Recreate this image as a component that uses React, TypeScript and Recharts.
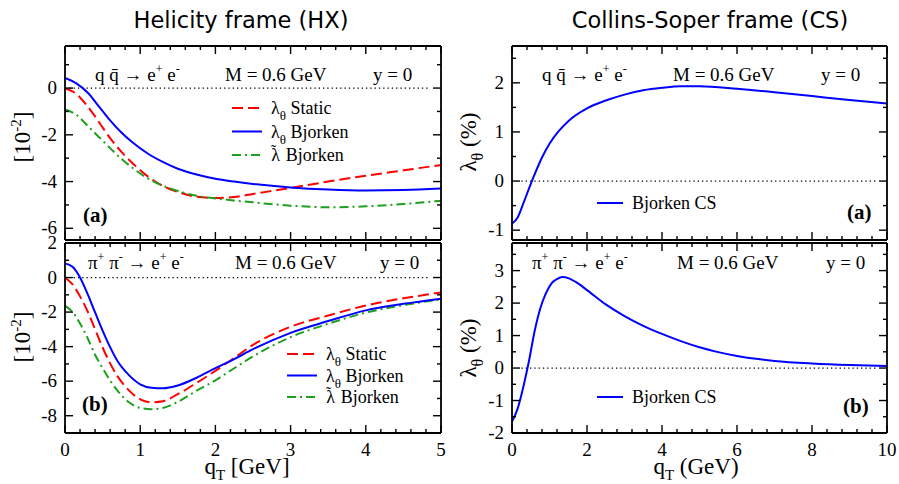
import React from "react";
import { LineChart, Line, XAxis, YAxis, ReferenceLine } from "recharts";

const W = 899;
const H = 484;
const SERIF = "'Liberation Serif', 'Times New Roman', serif";
const SANS = "'DejaVu Sans', sans-serif";
const RED = "#ff0000";
const BLUE = "#0000ff";
const GREEN = "#1f9f1f";

// Helicity frame, q qbar -> e+ e-
const hxQqT = [0, 0.15, 0.3, 0.45, 0.6, 0.75, 0.9, 1.1, 1.3, 1.5, 1.75, 2.0, 2.25, 2.5, 3.0, 3.5, 4.0, 4.5, 5.0];
const hxQqStatic = [0, -0.25, -0.78, -1.45, -2.14, -2.73, -3.22, -3.78, -4.18, -4.44, -4.65, -4.7, -4.66, -4.53, -4.27, -4.0, -3.75, -3.52, -3.29];
const hxQqBjorken = [0.43, 0.2, -0.19, -0.78, -1.38, -1.9, -2.33, -2.8, -3.16, -3.45, -3.7, -3.88, -4.0, -4.1, -4.25, -4.34, -4.38, -4.36, -4.3];
const hxQqTilde = [-0.91, -1.14, -1.61, -2.09, -2.57, -3.03, -3.42, -3.86, -4.18, -4.4, -4.61, -4.72, -4.81, -4.89, -5.03, -5.1, -5.06, -4.96, -4.82];

// Helicity frame, pi+ pi- -> e+ e-
const hxPiT = [0, 0.1, 0.2, 0.3, 0.4, 0.5, 0.6, 0.7, 0.85, 1.0, 1.15, 1.3, 1.5, 1.75, 2.0, 2.25, 2.5, 3.0, 3.5, 4.0, 4.5, 5.0];
const hxPiStatic = [0, -0.4, -1.09, -1.95, -3.0, -4.05, -4.97, -5.72, -6.53, -7.05, -7.22, -7.16, -6.75, -6.1, -5.4, -4.65, -3.9, -2.85, -2.2, -1.62, -1.2, -0.87];
const hxPiBjorken = [0.82, 0.62, 0.0, -0.95, -2.02, -3.07, -4.03, -4.85, -5.65, -6.18, -6.38, -6.41, -6.25, -5.8, -5.25, -4.72, -4.15, -3.2, -2.52, -1.9, -1.52, -1.22];
const hxPiTilde = [-1.63, -2.0, -2.66, -3.5, -4.47, -5.24, -5.96, -6.56, -7.22, -7.55, -7.62, -7.55, -7.2, -6.55, -5.95, -5.25, -4.57, -3.45, -2.68, -2.03, -1.6, -1.26];

// Collins-Soper frame
const csQqT = [0, 0.15, 0.3, 0.45, 0.6, 0.8, 1.0, 1.25, 1.5, 2.0, 2.5, 3.0, 3.5, 4.0, 4.5, 5.0, 6.0, 7.0, 8.0, 9.0, 10.0];
const csQqBjorken = [-0.87, -0.74, -0.46, -0.16, 0.13, 0.48, 0.76, 1.02, 1.22, 1.48, 1.64, 1.76, 1.85, 1.9, 1.93, 1.93, 1.88, 1.81, 1.73, 1.65, 1.58];
const csPiT = [0, 0.15, 0.3, 0.45, 0.6, 0.75, 0.9, 1.05, 1.2, 1.35, 1.5, 1.7, 2.0, 2.5, 3.0, 3.5, 4.0, 4.5, 5.0, 5.5, 6.0, 7.0, 8.0, 9.0, 10.0];
const csPiBjorken = [-1.65, -1.25, -0.59, 0.2, 1.12, 1.82, 2.29, 2.6, 2.74, 2.8, 2.77, 2.65, 2.4, 1.96, 1.6, 1.3, 1.05, 0.83, 0.64, 0.49, 0.37, 0.22, 0.14, 0.09, 0.06];

// axis ticks
const hxXMajor = [0, 1, 2, 3, 4, 5];
const csXMajor = [0, 2, 4, 6, 8, 10];
const hxQqYMajor = [0, -2, -4, -6];
const hxPiYMajor = [2, 0, -2, -4, -6, -8];
const csQqYMajor = [2, 1, 0, -1];
const csPiYMajor = [3, 2, 1, 0, -1, -2];

const steps = (lo: number, hi: number, step: number) => {
  const out: number[] = [];
  for (let v = lo; v <= hi + 1e-9; v += step) out.push(Math.round(v * 1000) / 1000);
  return out;
};

const near = (list: number[], v: number) => list.some((m) => Math.abs(m - v) < 1e-6);

type Side = "bottom" | "top" | "left" | "right";

function makeTick(side: Side, majors: number[], labels: number[]) {
  return (p: any) => {
    const v = p.payload.value;
    const len = near(majors, v) ? 8 : 4;
    const show = near(labels, v);
    const { x, y } = p;
    let ln;
    let txt = null;
    if (side === "bottom") {
      ln = <line x1={x} x2={x} y1={y} y2={y - len} />;
      if (show) txt = <text x={x} y={y + 23} textAnchor="middle">{v}</text>;
    } else if (side === "top") {
      ln = <line x1={x} x2={x} y1={y} y2={y + len} />;
    } else if (side === "left") {
      ln = <line x1={x} x2={x + len} y1={y} y2={y} />;
      if (show) txt = <text x={x - 8} y={y + 6} textAnchor="end">{v}</text>;
    } else {
      ln = <line x1={x} x2={x - len} y1={y} y2={y} />;
    }
    return (
      <g stroke="#000" strokeWidth={1.4}>
        {ln}
        {txt && (
          <g stroke="none" fill="#000" fontFamily={SERIF} fontSize={19}>
            {txt}
          </g>
        )}
      </g>
    );
  };
}

type Series = { key: string; color: string; dash?: string };

type PanelProps = {
  rows: Record<string, number>[];
  series: Series[];
  box: [number, number, number, number];
  xDomain: [number, number];
  yDomain: [number, number];
  xMajor: number[];
  xMinorStep: number;
  yMajor: number[];
  yMinorStep: number;
  xLabels: number[];
  zeroEnd: number;
  zeroStart: number;
};

function Panel(props: PanelProps) {
  const { rows, series, box, xDomain, yDomain, xMajor, yMajor, xLabels } = props;
  const [l, t, r, b] = box;
  const xt = steps(xDomain[0], xDomain[1], props.xMinorStep);
  const yt = steps(Math.ceil(yDomain[0] / props.yMinorStep) * props.yMinorStep, yDomain[1], props.yMinorStep);
  const axisLine = { stroke: "#000", strokeWidth: 1.8 };
  return (
    <div style={{ position: "absolute", left: 0, top: 0 }}>
      <LineChart width={W} height={H} data={rows} margin={{ left: l, top: t, right: W - r, bottom: H - b }}>
        <XAxis xAxisId="b" dataKey="q" type="number" domain={xDomain} allowDataOverflow ticks={xt} interval={0}
          mirror tickSize={0} tickMargin={0} tickLine={false} axisLine={axisLine} tick={makeTick("bottom", xMajor, xLabels)} />
        <XAxis xAxisId="t" orientation="top" dataKey="q" type="number" domain={xDomain} allowDataOverflow ticks={xt} interval={0}
          mirror tickSize={0} tickMargin={0} tickLine={false} axisLine={axisLine} tick={makeTick("top", xMajor, [])} />
        <YAxis yAxisId="l" type="number" domain={yDomain} allowDataOverflow ticks={yt} interval={0}
          mirror tickSize={0} tickMargin={0} tickLine={false} axisLine={axisLine} tick={makeTick("left", yMajor, yMajor)} />
        <YAxis yAxisId="r" orientation="right" type="number" domain={yDomain} allowDataOverflow ticks={yt} interval={0}
          mirror tickSize={0} tickMargin={0} tickLine={false} axisLine={axisLine} tick={makeTick("right", yMajor, [])} />
        <ReferenceLine xAxisId="b" yAxisId="l" segment={[{ x: props.zeroStart, y: 0 }, { x: props.zeroEnd, y: 0 }]}
          stroke="#000" strokeWidth={1.2} strokeDasharray="1.3 3" />
        {series.map((s) => (
          <Line key={s.key} xAxisId="b" yAxisId="l" dataKey={s.key} type="monotone" dot={false} stroke={s.color}
            strokeWidth={2} strokeDasharray={s.dash} isAnimationActive={false} />
        ))}
      </LineChart>
    </div>
  );
}

const zip = (t: number[], cols: Record<string, number[]>) =>
  t.map((q, i) => {
    const row: Record<string, number> = { q };
    Object.keys(cols).forEach((k) => (row[k] = cols[k][i]));
    return row;
  });

const hxSeries: Series[] = [
  { key: "stat", color: RED, dash: "11 5" },
  { key: "tilde", color: GREEN, dash: "9 4 2 4" },
  { key: "bj", color: BLUE },
];

function Sub({ children }: { children: React.ReactNode }) {
  return <tspan dy={6} fontSize={13}>{children}</tspan>;
}

function Process({ x, y, pion }: { x: number; y: number; pion?: boolean }) {
  const sup = (s: string) => <tspan dy={-8} fontSize={12}>{s}</tspan>;
  return (
    <text x={x} y={y} fontFamily={SERIF} fontSize={19}>
      {pion ? (
        <>
          π{sup("+")}
          <tspan dy={8}>{" π"}</tspan>
          {sup("-")}
          <tspan dy={8}>{" \u2192 e"}</tspan>
        </>
      ) : (
        "q  q\u0304 \u2192 e"
      )}
      {sup("+")}
      <tspan dy={8}>{" e"}</tspan>
      {sup("-")}
    </text>
  );
}

function Header({ px, mx, yx, y, pion }: { px: number; mx: number; yx: number; y: number; pion?: boolean }) {
  return (
    <g>
      <Process x={px} y={y} pion={pion} />
      <text x={mx} y={y} fontFamily={SERIF} fontSize={19}>M = 0.6 GeV</text>
      <text x={yx} y={y} fontFamily={SERIF} fontSize={19}>y = 0</text>
    </g>
  );
}

function LegendRow({ x, y, len, s, children }: { x: number; y: number; len: number; s: Series; children: React.ReactNode }) {
  return (
    <g>
      <line x1={x} x2={x + len} y1={y} y2={y} stroke={s.color} strokeWidth={2} strokeDasharray={s.dash} />
      <text x={x + len + 9} y={y + 6} fontFamily={SERIF} fontSize={18}>{children}</text>
    </g>
  );
}

function HxLegend({ x, y, dy }: { x: number; y: number; dy: number }) {
  return (
    <g>
      <LegendRow x={x} y={y} len={30} s={hxSeries[0]}>λ<Sub>θ</Sub><tspan dy={-6}> Static</tspan></LegendRow>
      <LegendRow x={x} y={y + dy} len={30} s={hxSeries[2]}>λ<Sub>θ</Sub><tspan dy={-6}> Bjorken</tspan></LegendRow>
      <LegendRow x={x} y={y + 2 * dy} len={30} s={hxSeries[1]}>
        λ<tspan dx={-9} dy={-5} fontSize={16}>{"\u02dc"}</tspan>
        <tspan dx={5} dy={5}>{"  Bjorken"}</tspan>
      </LegendRow>
    </g>
  );
}

function YTitle({ x, y, kind }: { x: number; y: number; kind: "pow" | "lam" }) {
  return (
    <text x={x} y={y} transform={`rotate(-90 ${x} ${y})`} textAnchor="middle" fontFamily={SERIF} fontSize={23}>
      {kind === "pow" ? (
        <>
          [10<tspan dy={-9} fontSize={15}>-2</tspan>
          <tspan dy={9}>]</tspan>
        </>
      ) : (
        <>
          λ<tspan dy={7} fontSize={16}>θ</tspan>
          <tspan dy={-7}> (%)</tspan>
        </>
      )}
    </text>
  );
}

function XTitle({ x, y, text }: { x: number; y: number; text: string }) {
  return (
    <text x={x} y={y} textAnchor="middle" fontFamily={SERIF} fontSize={23}>
      q<tspan dy={6} fontSize={15}>T</tspan>
      <tspan dy={-6}>{" " + text}</tspan>
    </text>
  );
}

export default function App() {
  const tl = zip(hxQqT, { stat: hxQqStatic, bj: hxQqBjorken, tilde: hxQqTilde });
  const bl = zip(hxPiT, { stat: hxPiStatic, bj: hxPiBjorken, tilde: hxPiTilde });
  const tr = zip(csQqT, { bj: csQqBjorken });
  const br = zip(csPiT, { bj: csPiBjorken });
  const cs: Series[] = [{ key: "bj", color: BLUE }];
  return (
    <div style={{ position: "absolute", left: 0, top: 0, width: W, height: H, background: "#fff" }}>
      <Panel rows={tl} series={hxSeries} box={[65, 46, 441, 240]} xDomain={[0, 5]} yDomain={[-6.5, 1.8]}
        xMajor={hxXMajor} xMinorStep={0.2} yMajor={hxQqYMajor} yMinorStep={1} xLabels={[]} zeroStart={0} zeroEnd={4.85} />
      <Panel rows={bl} series={hxSeries} box={[65, 243, 441, 433]} xDomain={[0, 5]} yDomain={[-9, 2]}
        xMajor={hxXMajor} xMinorStep={0.2} yMajor={hxPiYMajor} yMinorStep={1} xLabels={hxXMajor} zeroStart={0} zeroEnd={4.85} />
      <Panel rows={tr} series={cs} box={[512, 46, 887, 240]} xDomain={[0, 10]} yDomain={[-1.2, 2.75]}
        xMajor={csXMajor} xMinorStep={0.4} yMajor={csQqYMajor} yMinorStep={0.5} xLabels={[]} zeroStart={0.25} zeroEnd={9.75} />
      <Panel rows={br} series={cs} box={[512, 243, 887, 433]} xDomain={[0, 10]} yDomain={[-2, 3.85]}
        xMajor={csXMajor} xMinorStep={0.4} yMajor={csPiYMajor} yMinorStep={0.5} xLabels={csXMajor} zeroStart={0.25} zeroEnd={9.75} />
      <svg width={W} height={H} style={{ position: "absolute", left: 0, top: 0 }}>
        <text x={241} y={28} textAnchor="middle" fontFamily={SANS} fontSize={22.5}>Helicity frame (HX)</text>
        <text x={710} y={28} textAnchor="middle" fontFamily={SANS} fontSize={22.5}>Collins-Soper frame (CS)</text>
        <YTitle x={30} y={137} kind="pow" />
        <YTitle x={30} y={337} kind="pow" />
        <YTitle x={476} y={142} kind="lam" />
        <YTitle x={476} y={348} kind="lam" />
        <XTitle x={247} y={474} text="[GeV]" />
        <XTitle x={696} y={474} text="(GeV)" />
        <Header px={95} mx={225} yx={373} y={81} />
        <Header px={88} mx={235} yx={380} y={269} pion />
        <Header px={542} mx={673} yx={821} y={81} />
        <Header px={532} mx={677} yx={826} y={269} pion />
        <text x={83} y={222} fontFamily={SERIF} fontSize={21} fontWeight="bold">(a)</text>
        <text x={82} y={411} fontFamily={SERIF} fontSize={21} fontWeight="bold">(b)</text>
        <text x={847} y={219} fontFamily={SERIF} fontSize={21} fontWeight="bold">(a)</text>
        <text x={843} y={413} fontFamily={SERIF} fontSize={21} fontWeight="bold">(b)</text>
        <HxLegend x={232} y={108} dy={23.5} />
        <HxLegend x={287} y={354} dy={21.5} />
        <LegendRow x={597} y={203} len={26} s={cs[0]}>Bjorken CS</LegendRow>
        <LegendRow x={597} y={397} len={26} s={cs[0]}>Bjorken CS</LegendRow>
      </svg>
    </div>
  );
}
